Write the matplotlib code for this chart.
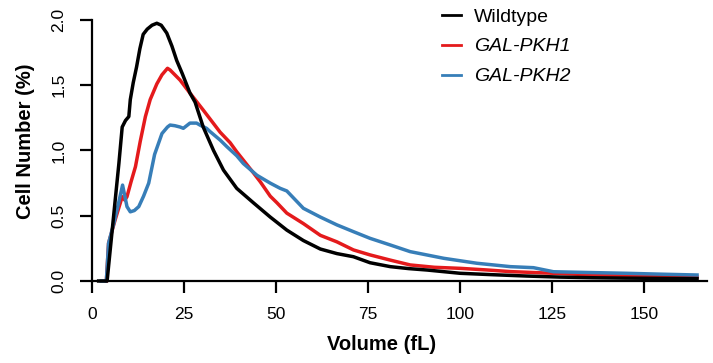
import matplotlib
matplotlib.use('Agg')

import matplotlib.pyplot as plt

plt.rcParams['font.family'] = ['Liberation Sans', 'DejaVu Sans']

# === data ===
wt_x = [1.8, 4.1, 5.2, 6.3, 7.3, 8.2, 9.1, 10.0, 10.4, 11.2, 12.1, 13.0, 13.9, 15.0,
        16.3, 17.6, 18.8, 20.3, 21.7, 23.0, 24.5, 26.6, 28.0, 30.2, 33.0, 35.7, 39.3,
        43.8, 48.4, 52.9, 57.4, 62.0, 66.5, 71.0, 75.5, 81.0, 86.0, 91.0, 100, 109,
        118, 127, 136, 145, 155, 164.3]
wt_y = [0, 0, 0.31, 0.62, 0.90, 1.18, 1.23, 1.26, 1.39, 1.52, 1.64, 1.78, 1.89, 1.93,
        1.96, 1.975, 1.96, 1.90, 1.80, 1.69, 1.59, 1.44, 1.37, 1.18, 1.0, 0.85, 0.71,
        0.60, 0.49, 0.39, 0.31, 0.245, 0.21, 0.186, 0.14, 0.11, 0.095, 0.084, 0.059, 0.048,
        0.038, 0.030, 0.025, 0.022, 0.02, 0.018]

pkh1_x = [3.9, 4.5, 6.3, 8.2, 8.9, 9.5, 10.6, 11.8, 13.1, 14.5, 15.8, 17.6, 19.0, 20.5,
          21.2, 22.5, 23.9, 26.6, 30.2, 34.8, 37.5, 39.3, 43.8, 45.7, 48.4, 50.2, 52.9,
          57.4, 62.0, 66.5, 71.0, 75.5, 81.0, 86.4, 93, 100, 107, 113.6, 125.3, 135,
          145.3, 155, 164.3]
pkh1_y = [0, 0.29, 0.47, 0.646, 0.62, 0.646, 0.76, 0.876, 1.07, 1.26, 1.39, 1.51, 1.58, 1.63,
          1.617, 1.58, 1.54, 1.44, 1.31, 1.14, 1.06, 0.99, 0.83, 0.76, 0.65, 0.60, 0.52,
          0.44, 0.35, 0.30, 0.238, 0.20, 0.16, 0.123, 0.105, 0.097, 0.085, 0.072, 0.059, 0.048,
          0.038, 0.034, 0.03]

pkh2_x = [2.5, 3.9, 4.5, 6.0, 7.2, 8.3, 9.5, 10.4, 11.5, 12.7, 14.0, 15.4, 17.0, 19.0,
          20.5, 21.2, 22.5, 23.9, 24.8, 26.6, 28.4, 29.3, 31.1, 32.1, 34.8, 36.6, 39.3,
          41.1, 44.8, 48.4, 51.1, 52.9, 57.4, 62.0, 66.5, 71.0, 75.5, 81.0, 86.4, 95.5,
          104.5, 113.6, 119.9, 122, 125.3, 135, 145.3, 155, 164.3]
pkh2_y = [0, 0, 0.29, 0.45, 0.595, 0.735, 0.57, 0.53, 0.54, 0.57, 0.65, 0.75, 0.97, 1.13,
          1.18, 1.195, 1.19, 1.18, 1.17, 1.21, 1.21, 1.195, 1.17, 1.144, 1.08, 1.03, 0.96,
          0.90, 0.81, 0.75, 0.71, 0.69, 0.557, 0.49, 0.43, 0.378, 0.327, 0.276, 0.225, 0.174,
          0.136, 0.11, 0.102, 0.09, 0.071, 0.065, 0.059, 0.052, 0.046]

x_ticks = [0, 25, 50, 75, 100, 125, 150]
y_ticks = [0.0, 0.5, 1.0, 1.5, 2.0]

W, H = 713, 363
fig = plt.figure(figsize=(W / 100, H / 100), dpi=100)
ax = fig.add_axes([92 / W, 82 / H, 615 / W, 261 / H])

l1, = ax.plot(pkh1_x, pkh1_y, color='#e41a1c', lw=2.5, clip_on=False, zorder=2)
l2, = ax.plot(pkh2_x, pkh2_y, color='#377eb8', lw=2.5, clip_on=False, zorder=3)
l0, = ax.plot(wt_x, wt_y, color='black', lw=2.5, clip_on=False, zorder=4)

ax.set_xlim(0, 167)
ax.set_ylim(0, 2.0)
ax.set_xticks(x_ticks)
ax.set_yticks(y_ticks)
ax.set_yticklabels([f"{v:.1f}" for v in y_ticks], rotation=90, va='center')

for s in ['top', 'right']:
    ax.spines[s].set_visible(False)
for s in ['left', 'bottom']:
    ax.spines[s].set_linewidth(1.6)
ax.tick_params(direction='out', length=8.5, width=1.6, labelsize=12.5)
ax.tick_params(axis='x', pad=10)
ax.tick_params(axis='y', pad=10)

fig.text(382 / W, 1 - 345 / H, 'Volume (fL)', ha='center', va='center',
         fontsize=14.5, fontweight='bold')
fig.text(26 / W, 1 - 141 / H, 'Cell Number (%)', ha='center', va='center',
         rotation=90, fontsize=14.5, fontweight='bold')

# 图例：无边框，放在右上
leg = ax.legend([l0, l1, l2], ['Wildtype', 'GAL-PKH1', 'GAL-PKH2'],
                loc='upper left', bbox_to_anchor=(442 / W, 1 - 8 / H),
                bbox_transform=fig.transFigure, frameon=False, fontsize=14,
                handlelength=1.0, handletextpad=0.65, labelspacing=0.63,
                borderpad=0, borderaxespad=0)
for t in leg.get_texts()[1:]:
    t.set_fontstyle('italic')
for h in leg.get_lines():
    h.set_linewidth(2.0)

fig.savefig('out.png', dpi=100)
